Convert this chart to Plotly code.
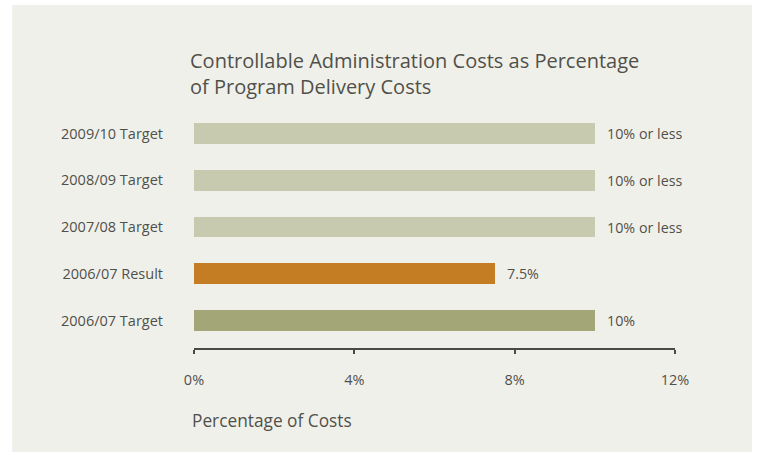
import plotly.graph_objects as go

# Categories listed bottom-to-top as they appear on the chart
categories = ["2006/07 Target", "2006/07 Result", "2007/08 Target", "2008/09 Target", "2009/10 Target"]
values = [10, 7.5, 10, 10, 10]
value_labels = ["10%", "7.5%", "10% or less", "10% or less", "10% or less"]
bar_colors = ["#a3a676", "#c47d22", "#c8cab0", "#c8cab0", "#c8cab0"]
x_ticks = [0, 4, 8, 12]
x_tick_labels = ["0%", "4%", "8%", "12%"]

FONT = "Open Sans"
TEXT = "#50504a"
PANEL = "#f0f0eb"

positions = list(range(len(categories)))

fig = go.Figure(
    go.Bar(
        x=values,
        y=positions,
        orientation="h",
        width=0.44,
        marker=dict(color=bar_colors, line=dict(width=0)),
        hoverinfo="skip",
    )
)

# value labels to the right of each bar
for pos, v, lab in zip(positions, values, value_labels):
    fig.add_annotation(
        x=v, y=pos, text=lab, showarrow=False,
        xanchor="left", xshift=10,
        font=dict(family=FONT, size=14.3, color=TEXT),
    )

# chart title
fig.add_annotation(
    xref="paper", yref="paper", x=-0.0125, y=1.248,
    text="Controllable Administration Costs as Percentage<br>of Program Delivery Costs",
    showarrow=False, xanchor="left", yanchor="top", align="left",
    font=dict(family=FONT, size=20, color=TEXT),
)

# axis caption
fig.add_annotation(
    xref="paper", yref="paper", x=-0.008, y=-0.3,
    text="Percentage of Costs", showarrow=False,
    xanchor="left", yanchor="middle",
    font=dict(family=FONT, size=17.3, color=TEXT),
)

# grey panel behind the chart
fig.add_shape(
    type="rect", xref="paper", yref="paper",
    x0=-0.378, x1=1.160, y0=-0.6, y1=1.4115,
    fillcolor=PANEL, line=dict(width=0), layer="below",
)

fig.update_layout(
    width=757, height=452,
    margin=dict(l=194, r=82, t=105, b=104),
    paper_bgcolor="white",
    plot_bgcolor="rgba(0,0,0,0)",
    showlegend=False,
    bargap=0,
    xaxis=dict(
        range=[0, 12], tickvals=x_ticks, ticktext=x_tick_labels,
        showgrid=False, zeroline=False,
        showline=True, linecolor="#4a4a45", linewidth=2,
        ticks="outside", ticklen=4, tickwidth=2, tickcolor="#4a4a45",
        ticklabelstandoff=14,
        tickfont=dict(family=FONT, size=14.5, color=TEXT),
        fixedrange=True,
    ),
    yaxis=dict(
        range=[-0.588, 4.61], tickvals=positions, ticktext=categories,
        showgrid=False, zeroline=False, showline=False,
        ticks="", ticklabelstandoff=30,
        tickfont=dict(family=FONT, size=14.5, color=TEXT),
        fixedrange=True,
    ),
)

fig.write_html("out.html")
